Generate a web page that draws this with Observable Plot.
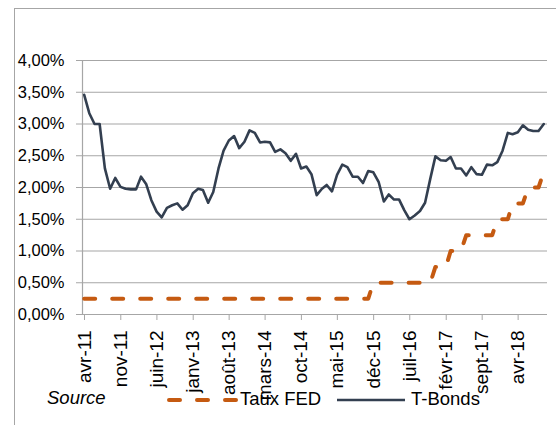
<!DOCTYPE html>
<html>
<head>
<meta charset="utf-8">
<script src="https://cdn.jsdelivr.net/npm/d3@7"></script>
<script src="https://cdn.jsdelivr.net/npm/@observablehq/plot@0.6"></script>
<style>
  html, body { margin: 0; padding: 0; background: #fff; }
  #wrap { position: relative; width: 556px; height: 425px; overflow: hidden; background: #fff; }
  #frame { position: absolute; left: 14px; top: 8px; width: 700px; height: 600px;
           border-left: 1px solid #a6a6a6; border-top: 1px solid #a6a6a6; box-sizing: border-box; }
  #chart { position: absolute; left: 0; top: 0; }
  #legend { position: absolute; left: 0; top: 0; pointer-events: none; }
</style>
</head>
<body>
<div id="wrap"><div id="frame"></div><div id="chart"></div></div>
<script>
// ---- data (monthly, avr-11 .. sept-18) ----
const startYear = 2011;
const startMonth = 3; // April (0-based)
const tbonds = [
  3.46, 3.17, 3.00, 3.00, 2.30, 1.98, 2.15, 2.01, 1.98,
  1.97, 1.97, 2.17, 2.05, 1.80, 1.62, 1.53, 1.68, 1.72, 1.75, 1.65, 1.72,
  1.91, 1.98, 1.96, 1.76, 1.93, 2.30, 2.58, 2.74, 2.81, 2.62, 2.72, 2.90,
  2.86, 2.71, 2.72, 2.71, 2.56, 2.60, 2.54, 2.42, 2.53, 2.30, 2.33, 2.21,
  1.88, 1.98, 2.04, 1.94, 2.20, 2.36, 2.32, 2.17, 2.17, 2.07, 2.26, 2.24,
  2.09, 1.78, 1.89, 1.81, 1.81, 1.64, 1.50, 1.56, 1.63, 1.76, 2.14, 2.49,
  2.43, 2.42, 2.48, 2.30, 2.30, 2.19, 2.32, 2.21, 2.20, 2.36, 2.35, 2.40,
  2.58, 2.86, 2.84, 2.87, 2.98, 2.91, 2.89, 2.89, 3.00
];
const fedFunds = [
  0.25, 0.25, 0.25, 0.25, 0.25, 0.25, 0.25, 0.25, 0.25,
  0.25, 0.25, 0.25, 0.25, 0.25, 0.25, 0.25, 0.25, 0.25, 0.25, 0.25, 0.25,
  0.25, 0.25, 0.25, 0.25, 0.25, 0.25, 0.25, 0.25, 0.25, 0.25, 0.25, 0.25,
  0.25, 0.25, 0.25, 0.25, 0.25, 0.25, 0.25, 0.25, 0.25, 0.25, 0.25, 0.25,
  0.25, 0.25, 0.25, 0.25, 0.25, 0.25, 0.25, 0.25, 0.25, 0.25, 0.25, 0.50,
  0.50, 0.50, 0.50, 0.50, 0.50, 0.50, 0.50, 0.50, 0.50, 0.50, 0.50, 0.75,
  0.75, 0.75, 1.00, 1.00, 1.00, 1.25, 1.25, 1.25, 1.25, 1.25, 1.25, 1.50,
  1.50, 1.50, 1.75, 1.75, 1.75, 2.00, 2.00, 2.00, 2.25
];
const tickLabels = ["avr-11", "nov-11", "juin-12", "janv-13", "août-13", "mars-14", "oct-14",
                    "mai-15", "déc-15", "juil-16", "févr-17", "sept-17", "avr-18"];
const tickStepMonths = 7;
const yTicks = [0, 0.5, 1, 1.5, 2, 2.5, 3, 3.5, 4];
const seriesNames = ["Taux FED", "T-Bonds"];
const sourceLabel = "Source";

// ---- styles ----
const navy = "#333f50";
const orange = "#c55a11";
const gridColor = "#a6a6a6";
const font = "'Liberation Sans', Arial, sans-serif";

// ---- build table ----
const rows = tbonds.map((v, i) => ({
  date: new Date(Date.UTC(startYear, startMonth + i, 11)),
  tb: v,
  fed: fedFunds[i]
}));
const tickDates = tickLabels.map((_, k) => new Date(Date.UTC(startYear, startMonth + k * tickStepMonths, 1)));
const xDomain = [new Date(Date.UTC(startYear, startMonth, 1)), new Date(Date.UTC(2018, 9, 3))];
const fmtY = d => d.toFixed(2).replace(".", ",") + "%";
const fmtX = d => tickLabels[tickDates.findIndex(t => +t === +d)];

const chart = Plot.plot({
  width: 556,
  height: 425,
  marginLeft: 82,
  marginRight: 9,
  marginTop: 60,
  marginBottom: 111,
  style: { fontFamily: font, fontSize: "16px", color: "#000", background: "transparent", overflow: "visible" },
  x: { type: "utc", domain: xDomain },
  y: { domain: [0, 4] },
  marks: [
    Plot.gridY(yTicks, { stroke: gridColor, strokeOpacity: 1, strokeWidth: 1.2 }),
    Plot.axisY(yTicks, { tickSize: 6, tickPadding: 12, tickFormat: fmtY, stroke: gridColor, fontSize: 16.5 }),
    Plot.ruleY([0], { stroke: gridColor, strokeWidth: 1.2 }),
    Plot.ruleX([xDomain[0]], { stroke: gridColor, strokeWidth: 1.2 }),
    Plot.axisX(tickDates, { tickSize: 6, tickPadding: 10, tickRotate: -90, tickFormat: fmtX, stroke: gridColor, fontSize: 19, dx: 2 }),
    Plot.line(rows, { x: "date", y: "fed", stroke: orange, strokeWidth: 4, strokeDasharray: "11,17", strokeLinecap: "round", strokeLinejoin: "round" }),
    Plot.line(rows, { x: "date", y: "tb", stroke: navy, strokeWidth: 2.6, strokeLinejoin: "round" })
  ]
});
document.getElementById("chart").appendChild(chart);

// ---- legend (overlapping the bottom, as in the original) ----
const leg = d3.select("#wrap").append("svg")
  .attr("id", "legend").attr("width", 556).attr("height", 425)
  .style("font-family", font);
leg.append("text").attr("x", 47).attr("y", 404).attr("font-size", 18.5).attr("font-style", "italic")
  .text(sourceLabel);
leg.append("line").attr("x1", 169).attr("x2", 237).attr("y1", 400).attr("y2", 400)
  .attr("stroke", orange).attr("stroke-width", 4).attr("stroke-dasharray", "11,17").attr("stroke-linecap", "round");
leg.append("text").attr("x", 240).attr("y", 405).attr("font-size", 18.5).text(seriesNames[0]);
leg.append("line").attr("x1", 337).attr("x2", 405).attr("y1", 400).attr("y2", 400)
  .attr("stroke", navy).attr("stroke-width", 2.5);
leg.append("text").attr("x", 411).attr("y", 405).attr("font-size", 18.5).text(seriesNames[1]);
</script>
</body>
</html>
